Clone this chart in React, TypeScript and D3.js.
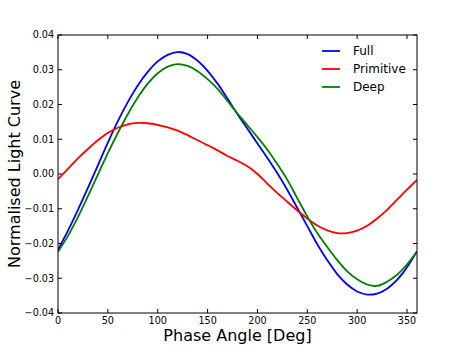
import React from "react";
import * as d3 from "d3";

const angles = [0,10,20,30,40,50,60,70,80,90,100,110,120,130,140,150,160,170,180,190,200,210,220,230,240,250,260,270,280,290,300,310,320,330,340,350,360];
const fullValues = [-0.0218,-0.0163,-0.0103,-0.0040,0.0025,0.0090,0.0152,0.0207,0.0255,0.0294,0.0324,0.0343,0.0351,0.0345,0.0326,0.0297,0.0260,0.0217,0.0172,0.0130,0.0088,0.0046,0.0002,-0.0046,-0.0098,-0.0150,-0.0202,-0.0248,-0.0288,-0.0318,-0.0338,-0.0347,-0.0344,-0.0330,-0.0305,-0.0268,-0.0222];
const primitiveValues = [-0.0015,0.0015,0.0045,0.0072,0.0097,0.0118,0.0133,0.0143,0.0147,0.0146,0.0141,0.0134,0.0125,0.0112,0.0097,0.0083,0.0068,0.0052,0.0038,0.0022,0.0000,-0.0028,-0.0055,-0.0080,-0.0105,-0.0128,-0.0148,-0.0162,-0.0170,-0.0170,-0.0163,-0.0149,-0.0128,-0.0103,-0.0074,-0.0045,-0.0017];
const deepValues = [-0.0224,-0.0178,-0.0124,-0.0064,-0.0002,0.0060,0.0118,0.0172,0.0220,0.0260,0.0290,0.0309,0.0316,0.0311,0.0296,0.0273,0.0245,0.0210,0.0174,0.0140,0.0106,0.0070,0.0028,-0.0017,-0.0070,-0.0122,-0.0170,-0.0210,-0.0248,-0.0280,-0.0303,-0.0318,-0.0322,-0.0310,-0.0290,-0.0260,-0.0224];

const seriesNames = ["Full", "Primitive", "Deep"];
const seriesColors = ["#0000ff", "#ff0000", "#008000"];
const xTicks = [0,50,100,150,200,250,300,350];
const yTicks = [-0.04,-0.03,-0.02,-0.01,0,0.01,0.02,0.03,0.04];

export default function App() {
  const W = 463, H = 348;
  const L = 58, R = 417, T = 35, B = 313;
  const x = d3.scaleLinear().domain([0, 360]).range([L, R]);
  const y = d3.scaleLinear().domain([-0.04, 0.04]).range([B, T]);
  const all = [fullValues, primitiveValues, deepValues];
  const line = d3.line<number>()
    .x((_, i) => x(angles[i]))
    .y((d) => y(d))
    .curve(d3.curveCatmullRom.alpha(0.5));
  const font = "'DejaVu Sans', sans-serif";
  const fmt = (v: number) => (v < 0 ? "\u2212" : "") + Math.abs(v).toFixed(2);
  const tl = 4;
  return (
    <svg width={W} height={H} style={{ position: "absolute", left: 0, top: 0, display: "block" }} fontFamily={font}>
      <rect x={0} y={0} width={W} height={H} fill="#fff" />
      <defs>
        <clipPath id="plot">
          <rect x={L} y={T} width={R - L} height={B - T} />
        </clipPath>
      </defs>
      <g clipPath="url(#plot)">
        {all.map((vals, k) => (
          <path key={k} d={line(vals) || ""} fill="none" stroke={seriesColors[k]} strokeWidth={1.8} />
        ))}
      </g>
      <rect x={L} y={T} width={R - L} height={B - T} fill="none" stroke="#000" strokeWidth={1} />
      {xTicks.map((t) => (
        <g key={"x" + t}>
          <line x1={x(t)} x2={x(t)} y1={B} y2={B - tl} stroke="#000" strokeWidth={1} />
          <line x1={x(t)} x2={x(t)} y1={T} y2={T + tl} stroke="#000" strokeWidth={1} />
          <text x={x(t)} y={B + 11} fontSize={9.6} textAnchor="middle">{t}</text>
        </g>
      ))}
      {yTicks.map((t) => (
        <g key={"y" + t}>
          <line x1={L} x2={L + tl} y1={y(t)} y2={y(t)} stroke="#000" strokeWidth={1} />
          <line x1={R} x2={R - tl} y1={y(t)} y2={y(t)} stroke="#000" strokeWidth={1} />
          <text x={L - 4} y={y(t)} dy="0.35em" fontSize={9.6} textAnchor="end">{fmt(t)}</text>
        </g>
      ))}
      <text x={(L + R) / 2} y={341} fontSize={16} textAnchor="middle">Phase Angle [Deg]</text>
      <text transform={`translate(20,${(T + B) / 2}) rotate(-90)`} fontSize={16} textAnchor="middle">Normalised Light Curve</text>
      {seriesNames.map((n, k) => (
        <g key={n}>
          <line x1={322} x2={340} y1={51 + k * 18} y2={51 + k * 18} stroke={seriesColors[k]} strokeWidth={1.8} />
          <text x={353} y={51 + k * 18} dy="0.35em" fontSize={12}>{n}</text>
        </g>
      ))}
    </svg>
  );
}
